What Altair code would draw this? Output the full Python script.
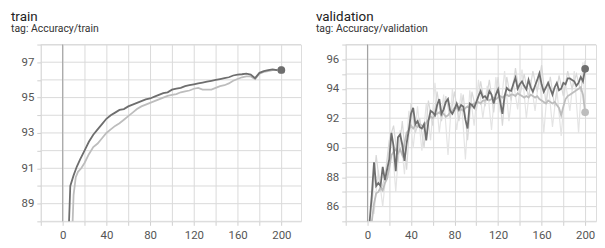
import altair as alt
import pandas as pd

# ---------------- data ----------------
# train, run A (dark)
train_a_steps = [5, 7, 10, 13, 16, 20, 24, 28, 32, 36, 40, 44, 48, 52, 56, 60, 64, 68, 72, 76,
                 80, 84, 88, 92, 96, 100, 104, 108, 112, 116, 120, 124, 128, 132, 136, 140,
                 144, 148, 152, 156, 160, 164, 168, 172, 176, 180, 184, 188, 192, 196, 200]
train_a_vals = [86.5, 90.0, 90.6, 91.1, 91.5, 92.0, 92.5, 92.9, 93.2, 93.5, 93.8, 94.0, 94.15,
                94.3, 94.35, 94.5, 94.6, 94.7, 94.8, 94.9, 94.95, 95.05, 95.15, 95.25, 95.3,
                95.45, 95.5, 95.55, 95.65, 95.7, 95.75, 95.8, 95.85, 95.9, 95.95, 96.0, 96.05,
                96.1, 96.15, 96.25, 96.3, 96.32, 96.35, 96.3, 96.1, 96.4, 96.5, 96.55, 96.6,
                96.55, 96.56]
# train, run B (light)
train_b_steps = [8, 10, 12, 14, 17, 20, 24, 28, 32, 36, 40, 44, 48, 52, 56, 60, 64, 68, 72, 76,
                 80, 84, 88, 92, 96, 100, 104, 108, 112, 116, 120, 124, 128, 132, 136, 140,
                 144, 148, 152, 156, 160, 164, 168, 172, 176, 180, 184, 188, 192, 196, 200]
train_b_vals = [86.0, 89.5, 90.5, 90.8, 91.0, 91.3, 91.8, 92.2, 92.4, 92.7, 93.0, 93.2, 93.4,
                93.55, 93.75, 93.95, 94.15, 94.35, 94.5, 94.6, 94.7, 94.8, 94.9, 95.0, 95.1,
                95.15, 95.2, 95.3, 95.35, 95.4, 95.5, 95.55, 95.45, 95.45, 95.45, 95.55, 95.65,
                95.7, 95.8, 95.95, 96.05, 96.15, 96.2, 96.2, 96.05, 96.35, 96.45, 96.5, 96.55,
                96.55, 96.55]

# validation, run A (dark, smoothed)
val_a_steps = list(range(2, 201, 2))
val_a_vals = [85.0, 86.8, 89.0, 87.4, 87.6, 87.4, 88.7, 87.8, 88.5, 89.2,
              91.0, 90.1, 88.4, 90.7, 90.9, 90.2, 89.1, 90.3, 91.2, 92.3,
              92.7, 91.6, 91.8, 91.4, 91.3, 91.6, 90.5, 91.8, 92.5, 92.4,
              92.2, 92.9, 93.3, 92.3, 92.6, 93.1, 93.3, 92.5, 92.3, 92.6,
              93.0, 92.6, 92.9, 92.8, 91.9, 91.3, 93.0, 92.9, 92.7, 93.1,
              93.5, 93.85, 93.4, 93.5, 93.3, 93.85, 93.6, 93.0, 93.6, 93.95,
              93.1, 92.3, 93.5, 94.05, 93.9, 93.85, 94.3, 94.75, 94.0, 94.3,
              94.5, 94.2, 93.95, 94.6, 94.1, 93.8, 94.2, 94.6, 95.05, 94.3,
              93.8, 94.1, 94.4, 94.0, 93.6, 94.1, 94.4, 93.9, 94.0, 94.4,
              94.3, 94.7, 94.7, 94.6, 94.5, 94.2, 94.4, 94.8, 94.5, 95.35]
# validation, run B (light, smoothed)
val_b_steps = list(range(4, 201, 2))
val_b_vals = [85.0, 86.2, 86.9, 87.0, 87.3, 87.1, 87.6, 87.9, 88.6,
              89.5, 89.7, 89.9, 89.6, 89.9, 89.5, 90.3, 91.0, 91.2, 91.5,
              91.3, 91.5, 91.4, 91.6, 91.5, 91.4, 91.7, 91.9, 92.1, 92.0,
              92.2, 92.3, 92.4, 92.2, 92.3, 92.1, 92.2, 92.4, 92.5, 92.7,
              92.7, 92.5, 92.6, 92.5, 92.7, 92.8, 92.7, 92.9, 93.0, 93.0,
              93.1, 93.0, 93.2, 93.2, 93.3, 93.2, 93.3, 93.4, 93.3, 93.4,
              93.5, 93.4, 93.5, 93.6, 93.5, 93.6, 93.6, 93.5, 93.7, 93.6,
              93.5, 93.4, 93.5, 93.4, 93.6, 93.5, 93.4, 93.5, 93.3, 93.2,
              93.1, 93.0, 93.2, 93.1, 93.0, 93.1, 92.9, 92.7, 92.2, 92.8,
              93.3, 93.5, 93.6, 93.7, 93.8, 93.9, 94.0, 94.1, 93.6, 92.4]
# validation raw values (faint)
val_a_raw_steps = list(range(4, 201, 4))
val_a_raw_vals = [86.0, 89.5, 87.0, 88.0, 90.5, 91.5, 89.0, 91.8, 88.5, 93.0,
                  91.0, 92.0, 90.0, 93.2, 91.5, 93.8, 91.8, 93.5, 92.0, 93.8,
                  91.8, 93.6, 90.5, 93.8, 92.5, 94.5, 92.8, 94.6, 92.4, 94.8,
                  91.5, 94.8, 93.2, 95.4, 93.5, 95.0, 93.4, 95.2, 93.8, 95.6,
                  93.0, 94.8, 92.8, 94.9, 93.5, 95.2, 94.0, 95.0, 93.8, 95.9]
val_b_raw_steps = list(range(6, 199, 4)) + [200]
val_b_raw_vals = [85.5, 88.5, 86.0, 89.0, 91.0, 87.0, 91.2, 88.2, 92.5, 90.0,
                  92.8, 89.8, 93.0, 90.5, 94.4, 91.0, 93.6, 89.5, 94.0, 91.2,
                  93.7, 89.2, 93.9, 91.5, 94.6, 92.0, 94.2, 91.2, 94.8, 92.4,
                  95.2, 91.8, 94.5, 92.6, 95.3, 92.0, 94.6, 92.5, 95.0, 91.0,
                  94.5, 91.4, 94.0, 90.8, 94.4, 92.5, 95.2, 91.0, 95.8, 92.4]

x_ticks = list(range(-20, 201, 20))
train_y_ticks = list(range(88, 99))
val_y_ticks = list(range(85, 98))

DARK = "#6e6e6e"
LIGHT = "#bdbdbd"
GRID = "#dadada"
FONT = "Roboto"


def df(steps, vals):
    return pd.DataFrame({"step": steps, "value": vals})


def panel(title, subtitle, width, xdom, ydom, yticks, parity, series, ends):
    xscale = alt.Scale(domain=xdom, nice=False, zero=False)
    yscale = alt.Scale(domain=ydom, nice=False, zero=False)
    xaxis = alt.Axis(values=x_ticks, title=None, grid=True, gridColor=GRID,
                     domain=False, ticks=True, tickColor="#d0d0d0", tickSize=4,
                     labelExpr="datum.value % 40 == 0 ? datum.label : ''",
                     labelOverlap=False, labelFlush=False, labelFont=FONT,
                     labelFontSize=11.5, labelColor="#555555", labelPadding=4)
    yaxis = alt.Axis(values=yticks, title=None, grid=False,
                     domain=False, ticks=True, tickColor="#d0d0d0", tickSize=4,
                     labelExpr=f"datum.value % 2 == {parity} ? datum.label : ''",
                     labelOverlap=False, labelFont=FONT, labelFontSize=11.5,
                     labelColor="#555555", labelPadding=3)
    x = alt.X("step:Q", scale=xscale, axis=xaxis)
    y = alt.Y("value:Q", scale=yscale, axis=yaxis)
    layers = [alt.Chart(pd.DataFrame({"value": yticks})).mark_rule(color=GRID, strokeWidth=1)
              .encode(y=y)]
    for data, color, sw in series[:-2]:
        layers.append(alt.Chart(data).mark_line(color=color, strokeWidth=sw,
                                                clip=True, interpolate="linear")
                      .encode(x=x, y=y))
    layers.append(alt.Chart(pd.DataFrame({"step": [0]})).mark_rule(color="#a0a0a0", strokeWidth=1)
                  .encode(x=x))
    for data, color, sw in series[-2:]:
        layers.append(alt.Chart(data).mark_line(color=color, strokeWidth=sw,
                                                clip=True, interpolate="linear")
                      .encode(x=x, y=y))
    for data, color in ends:
        layers.append(alt.Chart(data).mark_circle(color=color, size=60, opacity=1)
                      .encode(x=x, y=y))
    return alt.layer(*layers).properties(
        width=width, height=178,
        title=alt.TitleParams(text=title, subtitle=subtitle, anchor="start", frame="group",
                              dx=-30, offset=4, font=FONT, fontSize=13.5, fontWeight="normal",
                              color="#212121", subtitleFont=FONT, subtitleFontSize=10.5,
                              subtitleColor="#333333", subtitlePadding=1))


train = panel("train", "tag: Accuracy/train", 262, [-20, 218], [88, 98], train_y_ticks, 1,
              [(df(train_b_steps, train_b_vals), LIGHT, 1.8),
               (df(train_a_steps, train_a_vals), DARK, 1.8)],
              [(df([train_b_steps[-1]], [train_b_vals[-1]]), LIGHT),
               (df([train_a_steps[-1]], [train_a_vals[-1]]), DARK)])

val = panel("validation", "tag: Accuracy/validation", 252, [-20, 210], [85, 97], val_y_ticks, 0,
            [(df(val_b_raw_steps, val_b_raw_vals), "#e4e4e4", 1.2),
             (df(val_a_raw_steps, val_a_raw_vals), "#d8d8d8", 1.2),
             (df(val_b_steps, val_b_vals), LIGHT, 1.8),
             (df(val_a_steps, val_a_vals), DARK, 1.8)],
            [(df([val_b_steps[-1]], [val_b_vals[-1]]), LIGHT),
             (df([val_a_steps[-1]], [val_a_vals[-1]]), DARK)])

chart = alt.hconcat(train, val, spacing=13).properties(
    padding={"left": 2, "top": 0, "right": 0, "bottom": 0}
).configure_view(stroke=None).configure(background="white")

chart.save("out.html", embed_options={"renderer": "svg", "actions": False})
